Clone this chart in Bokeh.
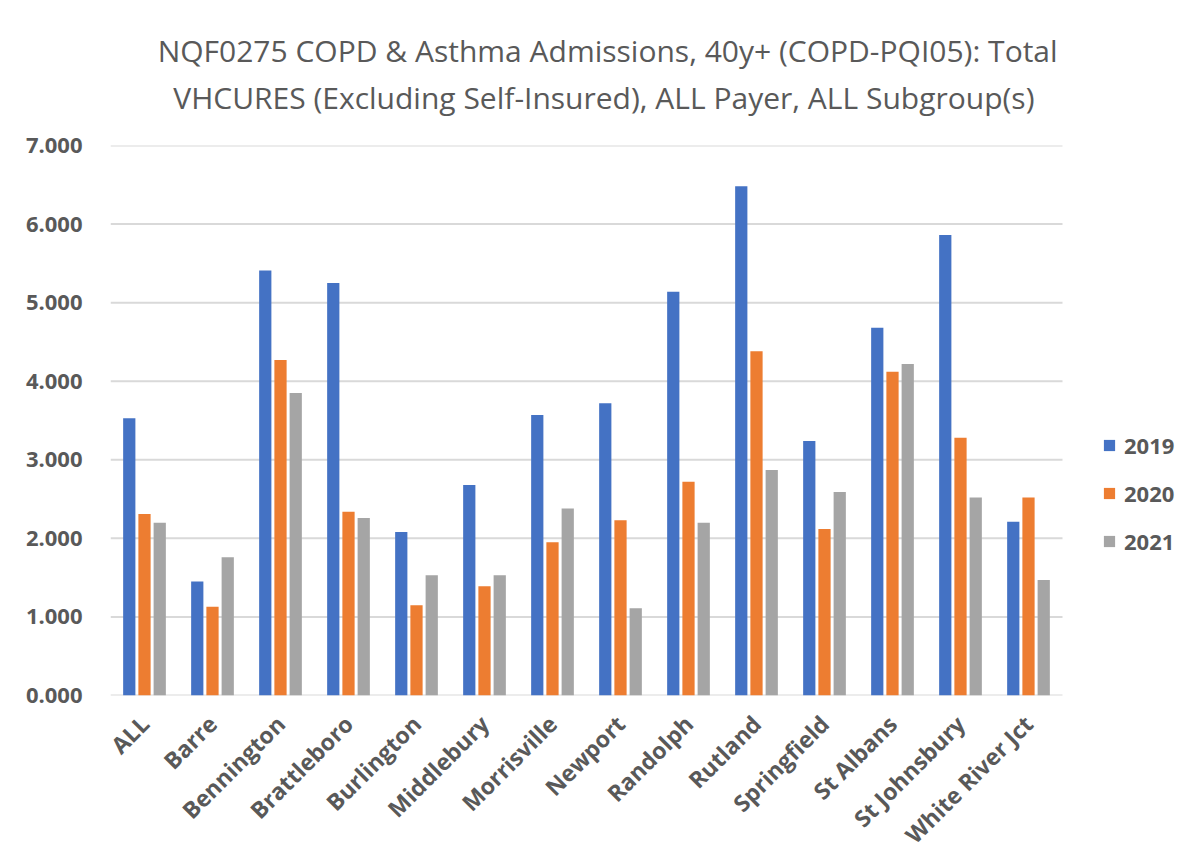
from bokeh.plotting import figure
from bokeh.models import ColumnDataSource, Range1d, FixedTicker, NumeralTickFormatter, Legend, LegendItem, Title
from bokeh.transform import dodge
from bokeh.embed import file_html
from bokeh.resources import INLINE
import math

cities = ["ALL", "Barre", "Bennington", "Brattleboro", "Burlington", "Middlebury", "Morrisville",
          "Newport", "Randolph", "Rutland", "Springfield", "St Albans", "St Johnsbury", "White River Jct"]
y2019 = [3.53, 1.45, 5.41, 5.25, 2.08, 2.68, 3.57, 3.72, 5.14, 6.48, 3.24, 4.68, 5.86, 2.21]
y2020 = [2.31, 1.13, 4.27, 2.34, 1.15, 1.39, 1.95, 2.23, 2.72, 4.38, 2.12, 4.12, 3.28, 2.52]
y2021 = [2.20, 1.76, 3.85, 2.26, 1.53, 1.53, 2.38, 1.11, 2.20, 2.87, 2.59, 4.22, 2.52, 1.47]
years = ["2019", "2020", "2021"]
y_ticks = [0, 1, 2, 3, 4, 5, 6, 7]
title1 = "NQF0275 COPD & Asthma Admissions, 40y+ (COPD-PQI05): Total"
title2 = "VHCURES (Excluding Self-Insured), ALL Payer, ALL Subgroup(s)"

colors = ["#4472C4", "#ED7D31", "#A5A5A5"]
text_color = "#595959"
grid_color = "#d9d9d9"

n = len(cities)
idx = list(range(n))
source = ColumnDataSource(dict(idx=idx, y2019=y2019, y2020=y2020, y2021=y2021))

W, H = 1190, 864
FL, FT = 110, 145
frame_w = W - FL
cat_px = 68.0
x_end = -0.5 + frame_w / cat_px

p = figure(width=W, height=H, x_range=Range1d(-0.5, x_end), y_range=Range1d(0, 7),
           output_backend="svg", toolbar_location=None,
           min_border_left=FL, min_border_right=0, min_border_top=FT, min_border_bottom=H - 697)
p.outline_line_color = None
p.background_fill_color = "white"
p.border_fill_color = "white"
p.xgrid.grid_line_color = None
p.ygrid.grid_line_color = None

# horizontal gridlines over the category span only
p.segment(x0=[-0.5] * len(y_ticks), x1=[n - 0.5] * len(y_ticks), y0=y_ticks, y1=y_ticks,
          line_color=grid_color, line_width=2)

renderers = []
for i, (col, c) in enumerate(zip(["y2019", "y2020", "y2021"], colors)):
    r = p.vbar(x=dodge("idx", (i - 1) * 0.224), top=col, width=0.18,
               source=source, fill_color=c, line_color=None)
    renderers.append(r)

# two-line title, centred over the chart area (padding shifts it left of the frame centre)
nb = "\u00a0"
t = Title(text=title1 + nb * 11 + "\n" + nb * 2 + title2, align="center", text_font="Open Sans",
          text_font_size="30px", text_font_style="normal", text_color=text_color,
          text_line_height=1.17, standoff=54)
p.title = None
p.add_layout(t, "above")

# y axis
p.yaxis.ticker = FixedTicker(ticks=y_ticks)
p.yaxis.formatter = NumeralTickFormatter(format="0.000")
p.yaxis.axis_line_color = None
p.yaxis.major_tick_line_color = None
p.yaxis.minor_tick_line_color = None
p.yaxis.major_label_text_font = "Open Sans"
p.yaxis.major_label_text_font_style = "bold"
p.yaxis.major_label_text_font_size = "22px"
p.yaxis.major_label_text_color = text_color
p.yaxis.major_label_standoff = 22

# x axis
p.xaxis.ticker = FixedTicker(ticks=idx)
p.xaxis.major_label_overrides = {i: c for i, c in zip(idx, cities)}
p.xaxis.axis_line_color = None
p.xaxis.major_tick_line_color = None
p.xaxis.minor_tick_line_color = None
p.xaxis.major_label_orientation = math.pi / 4
p.xaxis.major_label_text_font = "Open Sans"
p.xaxis.major_label_text_font_style = "bold"
p.xaxis.major_label_text_font_size = "23px"
p.xaxis.major_label_text_color = text_color
p.xaxis.major_label_standoff = 18

legend = Legend(items=[LegendItem(label=y, renderers=[r]) for y, r in zip(years, renderers)],
                location=(992, 139), orientation="vertical",
                glyph_width=14, glyph_height=14, label_height=20, spacing=18,
                padding=0, margin=0, border_line_color=None, background_fill_alpha=0,
                label_text_font="Open Sans", label_text_font_style="bold",
                label_text_font_size="22px", label_text_color=text_color, label_standoff=8)
p.add_layout(legend, "center")

open("out.html", "w").write(file_html(p, INLINE))
